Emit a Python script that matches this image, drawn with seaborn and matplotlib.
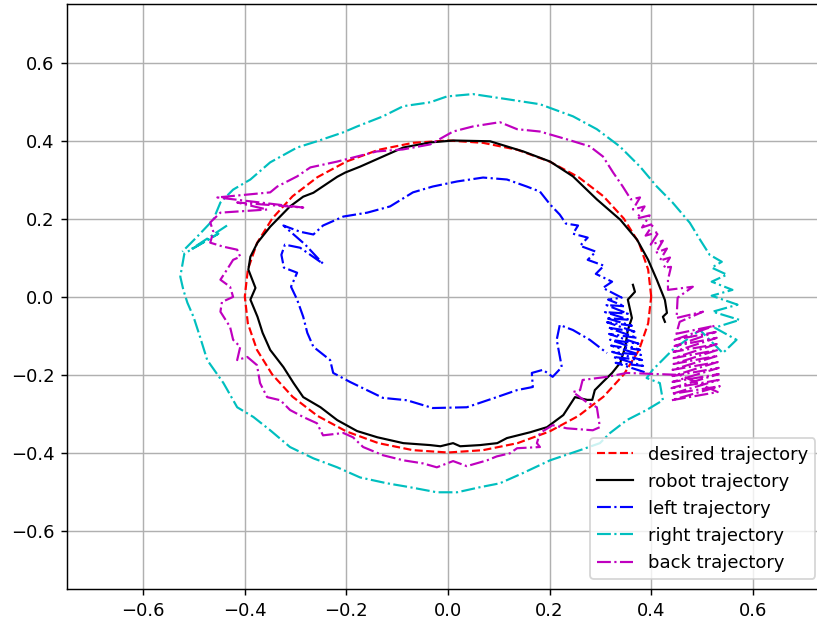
import matplotlib
matplotlib.use("Agg")
import matplotlib.pyplot as plt
import seaborn as sns
import pandas as pd

# Reference path: circle of radius 0.4 sampled every 10 degrees
desired_x = [0.400, 0.394, 0.376, 0.346, 0.306, 0.257, 0.200, 0.137, 0.069, 0.000,
             -0.069, -0.137, -0.200, -0.257, -0.306, -0.346, -0.376, -0.394, -0.400,
             -0.394, -0.376, -0.346, -0.306, -0.257, -0.200, -0.137, -0.069, 0.000,
             0.069, 0.137, 0.200, 0.257, 0.306, 0.346, 0.376, 0.394, 0.400]
desired_y = [0.000, 0.069, 0.137, 0.200, 0.257, 0.306, 0.346, 0.376, 0.394, 0.400,
             0.394, 0.376, 0.346, 0.306, 0.257, 0.200, 0.137, 0.069, 0.000,
             -0.069, -0.137, -0.200, -0.257, -0.306, -0.346, -0.376, -0.394, -0.400,
             -0.394, -0.376, -0.346, -0.306, -0.257, -0.200, -0.137, -0.069, 0.000]

# Measured robot centre
robot_x = [0.364, 0.368, 0.354, 0.362, 0.354, 0.349, 0.339, 0.323, 0.305, 0.289,
           0.284, 0.274, 0.250, 0.227, 0.195, 0.162, 0.116, 0.097, 0.063, 0.024,
           0.010, -0.015, -0.035, -0.088, -0.139, -0.179, -0.218, -0.251, -0.285,
           -0.304, -0.324, -0.350, -0.365, -0.375, -0.389, -0.379, -0.393, -0.389,
           -0.375, -0.350, -0.311, -0.285, -0.265, -0.218, -0.202, -0.173, -0.128,
           -0.088, -0.035, 0.010, 0.083, 0.148, 0.201, 0.246, 0.293, 0.339, 0.372,
           0.394, 0.411, 0.427, 0.431, 0.423, 0.427]
robot_y = [0.030, 0.012, -0.008, -0.055, -0.086, -0.129, -0.170, -0.196, -0.219, -0.240,
           -0.265, -0.265, -0.258, -0.304, -0.335, -0.348, -0.363, -0.376, -0.381, -0.384,
           -0.376, -0.384, -0.381, -0.376, -0.361, -0.345, -0.317, -0.284, -0.258,
           -0.222, -0.181, -0.137, -0.093, -0.052, -0.008, 0.022, 0.069, 0.102,
           0.138, 0.179, 0.231, 0.256, 0.266, 0.307, 0.318, 0.333, 0.359,
           0.382, 0.395, 0.400, 0.398, 0.372, 0.346, 0.308, 0.249, 0.197, 0.146,
           0.094, 0.043, -0.009, -0.042, -0.052, -0.065]

# Left marker
left_x = [0.387, 0.330, 0.384, 0.325, 0.382, 0.323, 0.380, 0.321, 0.378, 0.319,
          0.375, 0.317, 0.372, 0.315, 0.367, 0.313, 0.362, 0.311, 0.358, 0.309,
          0.354, 0.312, 0.348, 0.315, 0.342,
          0.305, 0.323, 0.291, 0.307, 0.275, 0.291, 0.260,
          0.275, 0.246, 0.256, 0.232, 0.220, 0.201, 0.181, 0.155, 0.116, 0.069,
          0.018, -0.030, -0.069, -0.114, -0.159, -0.206, -0.246, -0.265, -0.291,
          -0.324, -0.281, -0.246, -0.291, -0.321, -0.328, -0.323, -0.297, -0.309,
          -0.297, -0.285, -0.277, -0.265, -0.232, -0.226, -0.193, -0.128, -0.081,
          -0.030, 0.037, 0.096, 0.136, 0.167, 0.165, 0.187, 0.206, 0.224, 0.214,
          0.220, 0.246, 0.279, 0.313]
left_y = [-0.194, -0.170, -0.178, -0.155, -0.163, -0.142, -0.150, -0.126, -0.137, -0.111,
          -0.121, -0.096, -0.106, -0.080, -0.090, -0.066, -0.075, -0.055, -0.060, -0.040,
          -0.044, -0.022, -0.025, -0.008, -0.003,
          0.022, 0.038, 0.058, 0.079, 0.094, 0.115, 0.130,
          0.151, 0.161, 0.182, 0.187, 0.210, 0.236, 0.269, 0.282, 0.300, 0.305,
          0.295, 0.282, 0.267, 0.231, 0.215, 0.205, 0.182, 0.159, 0.166,
          0.182, 0.133, 0.084, 0.125, 0.133, 0.107, 0.074, 0.061, 0.025,
          -0.008, -0.052, -0.093, -0.129, -0.163, -0.196, -0.219, -0.260, -0.266,
          -0.286, -0.284, -0.258, -0.240, -0.232, -0.196, -0.188, -0.206, -0.181, -0.111,
          -0.073, -0.086, -0.111, -0.145]

# Right marker
right_x = [-0.435, -0.507, -0.452, -0.519, -0.527, -0.521, -0.513, -0.501, -0.488, -0.474,
           -0.442, -0.415, -0.383, -0.350, -0.311, -0.265, -0.218, -0.173, -0.120, -0.075,
           -0.022, 0.018, 0.063, 0.102, 0.147, 0.201, 0.260, 0.299, 0.319, 0.352,
           0.391, 0.423, 0.417, 0.391, 0.403, 0.442, 0.496, 0.541, 0.568, 0.525,
           0.574, 0.521, 0.570, 0.519, 0.560, 0.519, 0.549, 0.519, 0.539, 0.515,
           0.496, 0.476, 0.442, 0.411, 0.378, 0.338, 0.293, 0.246, 0.181, 0.116,
           0.049, -0.002, -0.035, -0.088, -0.128, -0.179, -0.206, -0.258, -0.297,
           -0.350, -0.389, -0.423, -0.448, -0.462, -0.494, -0.523]
right_y = [0.182, 0.120, 0.161, 0.110, 0.051, 0.017, -0.016, -0.052, -0.104, -0.163,
           -0.222, -0.284, -0.309, -0.343, -0.386, -0.415, -0.438, -0.464, -0.479, -0.489,
           -0.502, -0.502, -0.489, -0.479, -0.453, -0.420, -0.394, -0.376, -0.350, -0.317,
           -0.291, -0.266, -0.222, -0.209, -0.188, -0.137, -0.086, -0.145, -0.111, -0.080,
           -0.060, -0.039, -0.021, 0.002, 0.017, 0.038, 0.056, 0.074, 0.089, 0.107,
           0.146, 0.189, 0.241, 0.282, 0.333, 0.385, 0.429, 0.462, 0.493, 0.506,
           0.519, 0.513, 0.498, 0.488, 0.462, 0.436, 0.421, 0.398, 0.382,
           0.344, 0.300, 0.274, 0.241, 0.197, 0.153, 0.115]

# Back marker
back_x = [0.448, 0.525, 0.446, 0.527, 0.446, 0.529, 0.444, 0.529, 0.444, 0.531,
          0.444, 0.531, 0.442, 0.531, 0.442, 0.533, 0.442, 0.533, 0.440, 0.533,
          0.440, 0.535, 0.440, 0.531, 0.456, 0.352, 0.313, 0.265, 0.260, 0.246,
          0.273, 0.293, 0.299, 0.285, 0.234, 0.206, 0.181, 0.175, 0.181, 0.136,
          0.122, 0.096, 0.077, 0.037, 0.010, -0.022, -0.049, -0.088, -0.128, -0.167,
          -0.187, -0.206, -0.246, -0.258, -0.285, -0.311, -0.330, -0.356, -0.370, -0.376,
          -0.395, -0.415, -0.409, -0.423, -0.429, -0.448, -0.445, -0.423, -0.429, -0.448,
          -0.435, -0.423, -0.409, -0.415, -0.443, -0.468, -0.462, -0.468, -0.448, -0.356,
          -0.415, -0.285, -0.454, -0.350, -0.336, -0.297, -0.271, -0.218, -0.179, -0.140,
          -0.089, -0.035, 0.010, 0.049, 0.102, 0.136, 0.181, 0.234, 0.279, 0.305,
          0.325, 0.344, 0.360, 0.378, 0.364, 0.387, 0.372, 0.397, 0.382, 0.405,
          0.389, 0.415, 0.399, 0.423, 0.409, 0.431, 0.417, 0.437, 0.425, 0.439,
          0.433, 0.433, 0.482, 0.452, 0.450, 0.502, 0.456, 0.450]
back_y = [-0.096, -0.075, -0.111, -0.091, -0.127, -0.106, -0.142, -0.122, -0.158, -0.137,
          -0.173, -0.152, -0.188, -0.168, -0.204, -0.183, -0.219, -0.199, -0.235, -0.214,
          -0.250, -0.230, -0.266, -0.245, -0.201, -0.196, -0.206, -0.214, -0.240, -0.245,
          -0.271, -0.284, -0.335, -0.343, -0.338, -0.330, -0.350, -0.376, -0.386, -0.389,
          -0.402, -0.410, -0.420, -0.435, -0.422, -0.438, -0.428, -0.420, -0.407, -0.386,
          -0.361, -0.350, -0.356, -0.325, -0.309, -0.291, -0.266, -0.258, -0.222, -0.176,
          -0.155, -0.163, -0.129, -0.111, -0.078, -0.039, -0.014, -0.001, 0.025, 0.043,
          0.069, 0.094, 0.102, 0.120, 0.128, 0.138, 0.166, 0.190, 0.215, 0.223,
          0.241, 0.228, 0.254, 0.267, 0.282, 0.308, 0.331, 0.346, 0.359, 0.372,
          0.377, 0.390, 0.423, 0.436, 0.447, 0.429, 0.423, 0.403, 0.385, 0.359,
          0.318, 0.282, 0.249, 0.254, 0.223, 0.231, 0.200, 0.208, 0.177, 0.187,
          0.156, 0.166, 0.133, 0.143, 0.112, 0.123, 0.092, 0.100, 0.074, 0.076,
          0.043, 0.017, 0.025, -0.003, -0.055, -0.039, -0.065, -0.093]

series = [
    ("desired trajectory", desired_x, desired_y, "r", "--"),
    ("robot trajectory", robot_x, robot_y, "k", "-"),
    ("left trajectory", left_x, left_y, "b", "-."),
    ("right trajectory", right_x, right_y, "c", "-."),
    ("back trajectory", back_x, back_y, "m", "-."),
]

W, H, DPI = 817, 622, 130
fig = plt.figure(figsize=(W / DPI, H / DPI), dpi=DPI)
ax = fig.add_axes([67 / W, 33 / H, 762 / W, 585 / H])

for label, xs, ys, color, ls in series:
    df = pd.DataFrame({"x": xs, "y": ys})
    sns.lineplot(data=df, x="x", y="y", sort=False, estimator=None, ax=ax,
                 color=color, linestyle=ls, linewidth=1.2, label=label)

ax.set_xlim(-0.75, 0.75)
ax.set_ylim(-0.75, 0.75)
ticks = [-0.6, -0.4, -0.2, 0.0, 0.2, 0.4, 0.6]
ax.set_xticks(ticks)
ax.set_yticks(ticks)
ax.set_xlabel("")
ax.set_ylabel("")
ax.grid(True, color="#b0b0b0", linewidth=0.8)
ax.set_axisbelow(True)
ax.legend(loc="lower right", bbox_to_anchor=(0.982, 0.017), borderaxespad=0,
          fontsize=10)

fig.savefig("out.png", dpi=DPI)
